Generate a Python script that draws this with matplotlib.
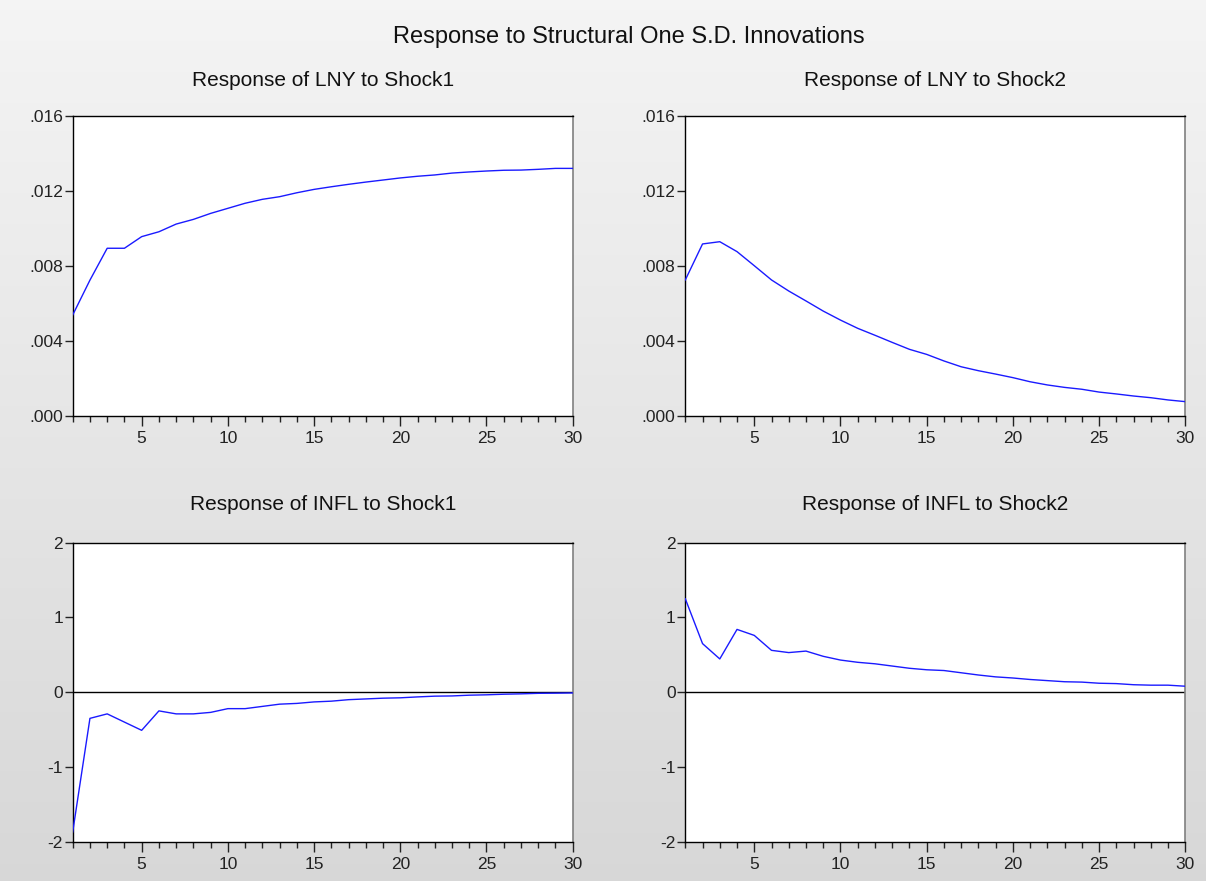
"""
Impulse responses (structural one S.D. innovations), EViews style 2x2 panel.
"""

import numpy as np
import matplotlib
matplotlib.use("Agg")
import matplotlib.pyplot as plt
from matplotlib.ticker import FuncFormatter, MultipleLocator, FixedLocator

plt.rcParams["font.family"] = ["Liberation Sans", "DejaVu Sans"]
plt.rcParams["axes.unicode_minus"] = False

# ---------------- DATA ----------------
periods = list(range(1, 31))

lny_shock1 = [0.00537, 0.00723, 0.00893, 0.00893, 0.00955, 0.00981, 0.01022, 0.01047,
              0.01079, 0.01106, 0.01133, 0.01154, 0.01168, 0.01189, 0.01207, 0.01221,
              0.01234, 0.01246, 0.01257, 0.01268, 0.01277, 0.01284, 0.01294, 0.01300,
              0.01305, 0.01309, 0.01310, 0.01314, 0.01319, 0.01319]

lny_shock2 = [0.00724, 0.00916, 0.00928, 0.00875, 0.00800, 0.00724, 0.00665, 0.00612,
              0.00558, 0.00510, 0.00466, 0.00429, 0.00391, 0.00354, 0.00327, 0.00292,
              0.00261, 0.00240, 0.00222, 0.00203, 0.00181, 0.00164, 0.00151, 0.00141,
              0.00126, 0.00116, 0.00105, 0.00096, 0.00084, 0.00075]

infl_shock1 = [-1.87, -0.35, -0.29, -0.40, -0.51, -0.25, -0.29, -0.29, -0.27, -0.22,
               -0.22, -0.19, -0.16, -0.15, -0.13, -0.12, -0.10, -0.09, -0.08, -0.075,
               -0.063, -0.053, -0.05, -0.04, -0.035, -0.027, -0.022, -0.015, -0.013, -0.01]

infl_shock2 = [1.25, 0.65, 0.445, 0.84, 0.76, 0.56, 0.53, 0.55, 0.48, 0.43,
               0.40, 0.38, 0.35, 0.32, 0.30, 0.29, 0.26, 0.23, 0.205, 0.19,
               0.17, 0.155, 0.14, 0.135, 0.12, 0.115, 0.10, 0.094, 0.094, 0.08]

panel_titles = ["Response of LNY to Shock1", "Response of LNY to Shock2",
                "Response of INFL to Shock1", "Response of INFL to Shock2"]
main_title = "Response to Structural One S.D. Innovations"

lny_ticks = [0.000, 0.004, 0.008, 0.012, 0.016]
infl_ticks = [-2, -1, 0, 1, 2]

# ---------------- FIGURE ----------------
W, H = 1206, 881
fig = plt.figure(figsize=(W / 100, H / 100), dpi=100)

# grey gradient background
bg = fig.add_axes([0, 0, 1, 1], zorder=-10)
grad = np.linspace(0.958, 0.845, 256).reshape(-1, 1)
bg.imshow(np.dstack([grad, grad, grad]), aspect="auto", extent=[0, 1, 0, 1])
bg.set_axis_off()


def px_axes(x0, y0, x1, y1):
    # pixel box (top-left origin) -> figure fraction
    return [x0 / W, 1 - y1 / H, (x1 - x0) / W, (y1 - y0) / H]


boxes = [
    (72.7, 115.7, 572.7, 415.7),
    (685.3, 115.7, 1185.3, 415.7),
    (72.7, 542.7, 572.7, 841.7),
    (685.3, 542.7, 1185.3, 841.7),
]
series = [lny_shock1, lny_shock2, infl_shock1, infl_shock2]


def lny_fmt(v, pos):
    return ("%.3f" % v)[1:]


for i, (box, ys, title) in enumerate(zip(boxes, series, panel_titles)):
    ax = fig.add_axes(px_axes(*box))
    ax.set_facecolor("white")
    ax.plot(periods, ys, color="#1a1aff", lw=1.0, zorder=3)
    ax.set_xlim(1, 30)

    if i < 2:
        ax.set_ylim(0, 0.016)
        ax.yaxis.set_major_locator(FixedLocator(lny_ticks))
        ax.yaxis.set_major_formatter(FuncFormatter(lny_fmt))
    else:
        ax.set_ylim(-2, 2)
        ax.yaxis.set_major_locator(FixedLocator(infl_ticks))
        ax.axhline(0, color="black", lw=1.0, zorder=2)

    ax.xaxis.set_major_locator(FixedLocator([5, 10, 15, 20, 25, 30]))
    ax.xaxis.set_minor_locator(MultipleLocator(1))
    ax.tick_params(axis="x", which="major", direction="out", length=7, width=1,
                   labelsize=12.5, colors="#222222", pad=4)
    ax.tick_params(axis="x", which="minor", direction="out", length=4, width=1,
                   colors="#222222")
    ax.tick_params(axis="y", direction="out", length=6, width=1,
                   labelsize=12.5, colors="#222222", pad=1)

    for side in ["left", "top", "bottom"]:
        ax.spines[side].set_color("black")
        ax.spines[side].set_linewidth(1.0)
    ax.spines["right"].set_color("#808080")
    ax.spines["right"].set_linewidth(1.2)

    cx = (box[0] + box[2]) / 2
    ty = 80 if i < 2 else 505
    fig.text(cx / W, 1 - ty / H, title, ha="center", va="center",
             fontsize=15, color="#111111")

fig.text(629 / W, 1 - 37 / H, main_title, ha="center", va="center",
         fontsize=17, color="#111111")

fig.savefig("out.png", dpi=100)
plt.close(fig)
